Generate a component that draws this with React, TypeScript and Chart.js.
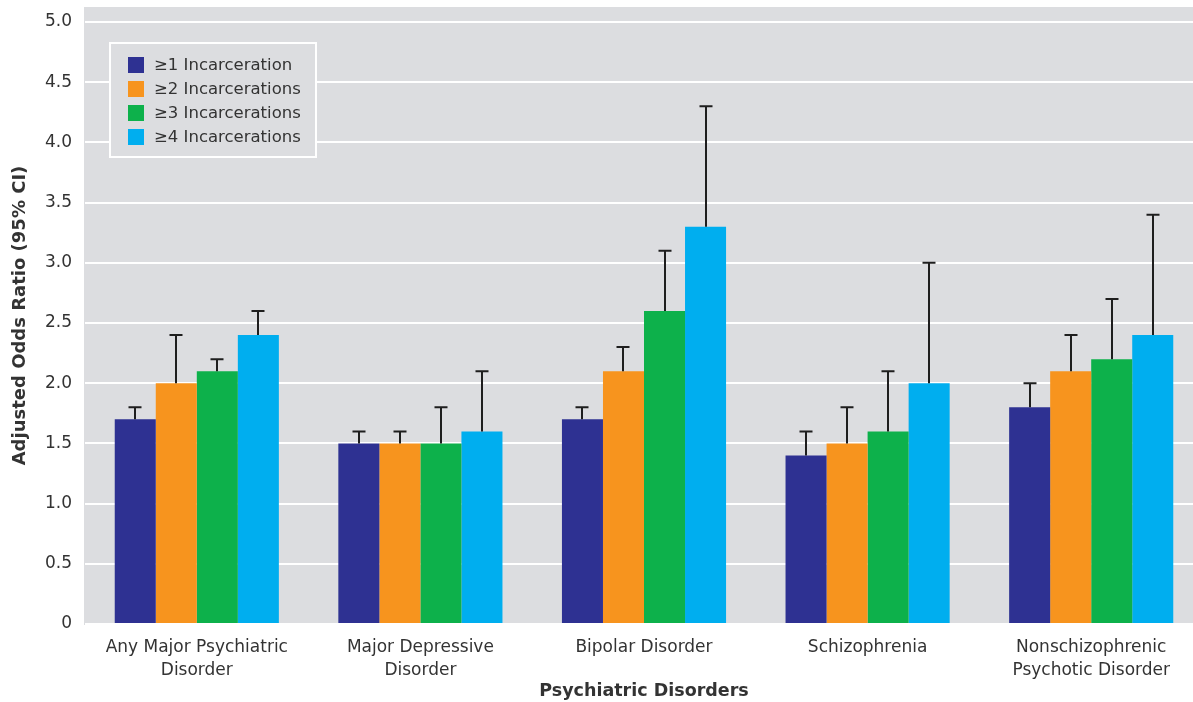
import React, { useEffect, useRef } from "react";
import { Chart, registerables } from "chart.js";

Chart.register(...registerables);

const categories: string[][] = [
  ["Any Major Psychiatric", "Disorder"],
  ["Major Depressive", "Disorder"],
  ["Bipolar Disorder"],
  ["Schizophrenia"],
  ["Nonschizophrenic", "Psychotic Disorder"],
];

const seriesLabels = ["≥1 Incarceration", "≥2 Incarcerations", "≥3 Incarcerations", "≥4 Incarcerations"];
const seriesColors = ["#2e3192", "#f7941e", "#0db14b", "#00aeef"];

const oddsAtLeast1 = [1.7, 1.5, 1.7, 1.4, 1.8];
const oddsAtLeast2 = [2.0, 1.5, 2.1, 1.5, 2.1];
const oddsAtLeast3 = [2.1, 1.5, 2.6, 1.6, 2.2];
const oddsAtLeast4 = [2.4, 1.6, 3.3, 2.0, 2.4];

const upperAtLeast1 = [1.8, 1.6, 1.8, 1.6, 2.0];
const upperAtLeast2 = [2.4, 1.6, 2.3, 1.8, 2.4];
const upperAtLeast3 = [2.2, 1.8, 3.1, 2.1, 2.7];
const upperAtLeast4 = [2.6, 2.1, 4.3, 3.0, 3.4];

const yTicks = [0, 0.5, 1.0, 1.5, 2.0, 2.5, 3.0, 3.5, 4.0, 4.5, 5.0];

const FONT = "'DejaVu Sans', sans-serif";
const TEXT = "#333333";
const PLOT_BG = "#dcdde0";

const uppers = [upperAtLeast1, upperAtLeast2, upperAtLeast3, upperAtLeast4];

const bgPlugin = {
  id: "plotBg",
  beforeDraw(chart: any) {
    const { ctx, chartArea } = chart;
    ctx.save();
    ctx.fillStyle = PLOT_BG;
    ctx.fillRect(chartArea.left - 1, chartArea.top, chartArea.right - chartArea.left + 1, chartArea.bottom - chartArea.top + 1);
    ctx.restore();
  },
};

const errorPlugin = {
  id: "errBars",
  afterDatasetsDraw(chart: any) {
    const { ctx } = chart;
    const yScale = chart.scales.y;
    ctx.save();
    ctx.strokeStyle = "#1e1e1e";
    ctx.lineWidth = 2;
    chart.data.datasets.forEach((_: any, i: number) => {
      const meta = chart.getDatasetMeta(i);
      meta.data.forEach((bar: any, j: number) => {
        const up = uppers[i][j];
        const yU = yScale.getPixelForValue(up);
        const x = Math.round(bar.x);
        ctx.beginPath();
        ctx.moveTo(x, bar.y);
        ctx.lineTo(x, yU);
        ctx.moveTo(x - 6.5, yU);
        ctx.lineTo(x + 6.5, yU);
        ctx.stroke();
      });
    });
    ctx.restore();
  },
};

const legendPlugin = {
  id: "boxLegend",
  afterDraw(chart: any) {
    const { ctx, chartArea } = chart;
    const bx = chartArea.left + 25;
    const by = chartArea.top + 36;
    const bw = 206;
    const bh = 114;
    ctx.save();
    ctx.fillStyle = PLOT_BG;
    ctx.fillRect(bx, by, bw, bh);
    ctx.strokeStyle = "#ffffff";
    ctx.lineWidth = 2;
    ctx.strokeRect(bx, by, bw, bh);
    ctx.font = `16.5px ${FONT}`;
    ctx.textBaseline = "middle";
    chart.data.datasets.forEach((ds: any, i: number) => {
      const cy = by + 22 + i * 24;
      ctx.fillStyle = ds.backgroundColor;
      ctx.fillRect(bx + 18, cy - 8, 16, 16);
      ctx.fillStyle = TEXT;
      ctx.fillText(ds.label, bx + 44, cy + 1);
    });
    ctx.restore();
  },
};

export default function App() {
  const ref = useRef<HTMLCanvasElement>(null);
  useEffect(() => {
    if (!ref.current) return;
    const values = [oddsAtLeast1, oddsAtLeast2, oddsAtLeast3, oddsAtLeast4];
    const chart = new Chart(ref.current, {
      type: "bar",
      data: {
        labels: categories,
        datasets: values.map((v, i) => ({
          label: seriesLabels[i],
          data: v,
          backgroundColor: seriesColors[i],
          borderWidth: 0,
          barPercentage: 1,
          categoryPercentage: 0.734,
        })),
      },
      options: {
        responsive: false,
        animation: false,
        devicePixelRatio: 1,
        layout: { padding: { top: 7, right: 12, left: 0, bottom: 0 } },
        plugins: { legend: { display: false }, tooltip: { enabled: false } },
        scales: {
          x: {
            grid: { display: false, drawTicks: false },
            border: { display: false },
            ticks: { color: TEXT, font: { family: FONT, size: 17, lineHeight: 1.35 }, padding: 12, maxRotation: 0, autoSkip: false },
            title: { display: true, text: "Psychiatric Disorders", color: TEXT, font: { family: FONT, size: 17.5, weight: "bold" }, padding: { top: 0, bottom: 0 } },
            afterFit(scale: any) {
              scale.height = 78;
              scale.paddingLeft = 0;
              scale.paddingRight = 0;
            },
          },
          y: {
            min: 0,
            max: 5.125,
            grid: { color: "#ffffff", lineWidth: 2, drawTicks: false },
            border: { display: false },
            afterBuildTicks(scale: any) {
              scale.ticks = yTicks.map((v) => ({ value: v }));
            },
            ticks: {
              color: TEXT,
              font: { family: FONT, size: 17 },
              padding: 13,
              callback: (v: any) => (Number(v) === 0 ? "0" : Number(v).toFixed(1)),
            },
            title: { display: true, text: "Adjusted Odds Ratio (95% CI)", color: TEXT, font: { family: FONT, size: 18, weight: "bold" }, padding: { top: 10, bottom: 4 } },
            afterFit(scale: any) {
              scale.width = 85;
              scale.paddingTop = 0;
              scale.paddingBottom = 0;
            },
          },
        },
      },
      plugins: [bgPlugin, errorPlugin, legendPlugin],
    });
    return () => chart.destroy();
  }, []);
  return (
    <div style={{ position: "fixed", left: 0, top: 0, width: 1193, height: 702, overflow: "hidden", background: "#fff" }}>
      <canvas ref={ref} width={1215} height={702} style={{ display: "block" }} />
    </div>
  );
}
